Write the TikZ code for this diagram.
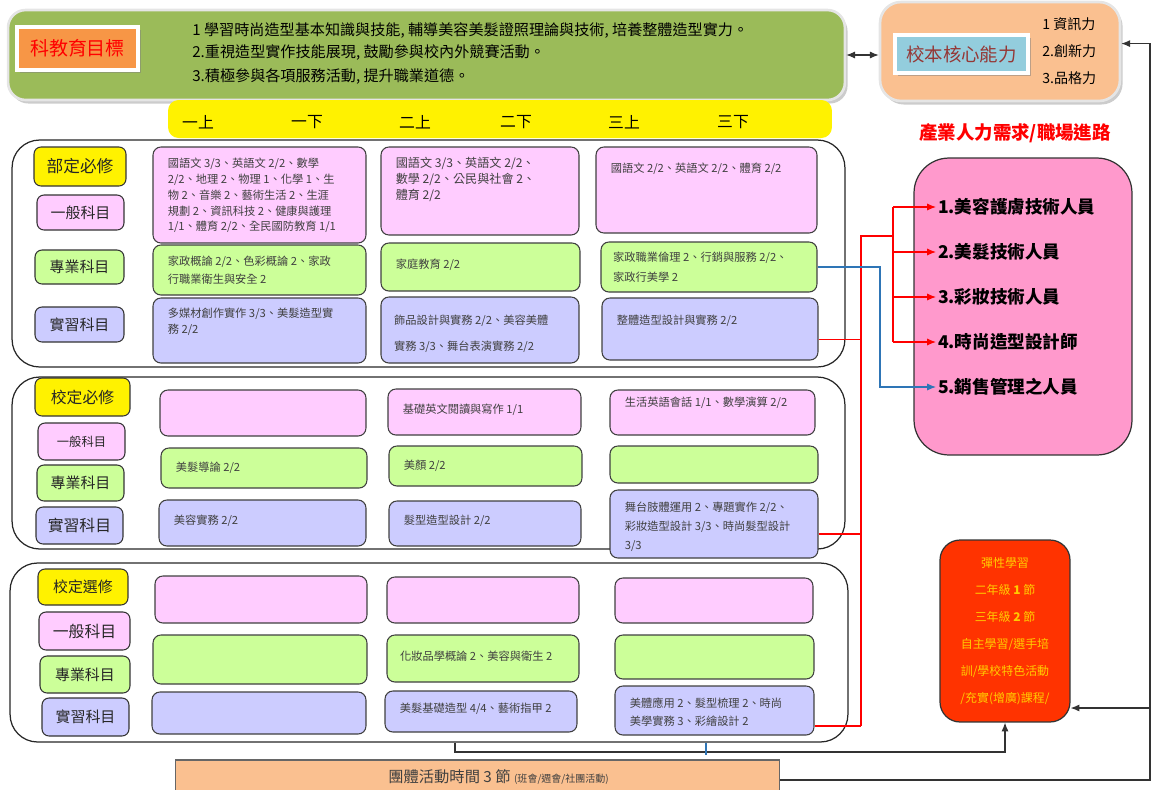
\documentclass[tikz,border=0pt]{standalone}
\usepackage{fontspec}
\setmainfont{Noto Sans CJK TC}
\usetikzlibrary{arrows.meta,positioning,shadows}

\definecolor{goalgreen}{HTML}{9BBB59}
\definecolor{tagorange}{HTML}{F79646}
\definecolor{peach}{HTML}{FAC090}
\definecolor{coreblue}{HTML}{93CDDD}
\definecolor{genpink}{HTML}{FFCCFF}
\definecolor{progreen}{HTML}{CCFF99}
\definecolor{praclav}{HTML}{CCCCFF}
\definecolor{jobpink}{HTML}{FF99CC}
\definecolor{flexred}{HTML}{FF3300}
\definecolor{flexgold}{HTML}{FFCC00}
\definecolor{darkred}{HTML}{953735}
\definecolor{inkgray}{HTML}{404040}
\definecolor{linkblue}{HTML}{2E75B6}

\tikzset{
  frame/.style={draw=black!85, line width=0.7pt, rounded corners=0.55cm, inner sep=0pt},
  tag/.style={draw=black!80, line width=0.6pt, rounded corners=4pt, inner sep=0pt, text=black!85, font=\fontsize{8.5}{10}\selectfont},
  course/.style={draw=black!75, line width=0.6pt, rounded corners=4.5pt, inner sep=0pt},
  ctext/.style={anchor=north west, inner sep=0pt, xshift=8.5pt, align=left, text=inkgray, font=\fontsize{6.4}{9}\selectfont},
  redline/.style={draw=red, line width=0.6pt},
  blueline/.style={draw=linkblue, line width=0.6pt},
  link/.style={draw=black!80, line width=0.6pt},
  tip/.style={-{Latex[length=5pt,width=4pt]}},
}

\begin{document}
\begin{tikzpicture}[x=0.02cm,y=-0.02cm]
\useasboundingbox (0,0) rectangle (1154,789);

% objectives
\node[fill=goalgreen, draw=gray!20, line width=1.5pt, rounded corners=10pt, minimum width=16.74cm, minimum height=1.8cm,
      drop shadow={shadow xshift=1.5pt, shadow yshift=-2pt, fill=black!40}] (goal) at (426.5,55) {};
\node[fill=tagorange, draw=white, line width=2pt, minimum width=2.42cm, minimum height=0.86cm, text=red,
      font=\fontsize{10.8}{12}\selectfont, drop shadow={shadow xshift=1.5pt, shadow yshift=-1.5pt, fill=black!50}] (goaltag) at (77.5,48.5) {科教育目標};
\node[anchor=west, inner sep=0pt, font=\fontsize{8.6}{10}\selectfont] (obj1) at (192,31) {1 學習時尚造型基本知識與技能, 輔導美容美髮證照理論與技術, 培養整體造型實力。};
\node[anchor=west, inner sep=0pt, font=\fontsize{8.6}{10}\selectfont] (obj2) at (192,53) {2.重視造型實作技能展現, 鼓勵參與校內外競賽活動。};
\node[anchor=west, inner sep=0pt, font=\fontsize{8.6}{10}\selectfont] (obj3) at (192,77) {3.積極參與各項服務活動, 提升職業道德。};

% core abilities
\node[fill=peach, draw=gray!20, line width=1.5pt, rounded corners=12pt, minimum width=4.8cm, minimum height=1.98cm,
      drop shadow={shadow xshift=1.5pt, shadow yshift=-2pt, fill=black!40}] (core) at (1000,51.5) {};
\node[fill=coreblue, draw=white, line width=2pt, minimum width=2.66cm, minimum height=0.76cm, text=darkred,
      font=\fontsize{10.5}{12}\selectfont, drop shadow={shadow xshift=1.5pt, shadow yshift=-1.5pt, fill=black!50}] (coretag) at (961.5,54) {校本核心能力};
\node[anchor=west, inner sep=0pt, font=\fontsize{8}{10}\selectfont] (ab1) at (1042,24) {1 資訊力};
\node[anchor=west, inner sep=0pt, font=\fontsize{8}{10}\selectfont] (ab2) at (1042,51) {2.創新力};
\node[anchor=west, inner sep=0pt, font=\fontsize{8}{10}\selectfont] (ab3) at (1042,78) {3.品格力};

\draw[link,{Latex[length=5pt,width=4pt]}-{Latex[length=5pt,width=4pt]}] (goal.east) -- (goal.east -| core.west);

% semesters
\node[fill=yellow, rounded corners=6pt, minimum width=13.28cm, minimum height=0.76cm] (yearbar) at (500,119) {};
\foreach \t/\x [count=\i] in {一上/198, 一下/307, 二上/415, 二下/516, 三上/624, 三下/733}
  \node[font=\fontsize{9}{10}\selectfont] (yr\i) at (\x,122) {\t};

\node[text=red, font=\bfseries\fontsize{10.5}{12}\selectfont] (jobhead) at (1015,133) {產業人力需求/職場進路};

% section frames
\node[frame, minimum width=16.66cm, minimum height=4.54cm] (sec1) at (428.5,253.5) {};
\node[frame, minimum width=16.66cm, minimum height=3.44cm] (sec2) at (428.5,463) {};
\node[frame, minimum width=16.76cm, minimum height=3.58cm] (sec3) at (429,652.5) {};

% row tags
\node[tag, fill=yellow, minimum width=1.84cm, minimum height=0.78cm, font=\fontsize{9.5}{10}\selectfont] (s1head) at (80,166.5) {部定必修};
\node[tag, fill=genpink, minimum width=1.74cm, minimum height=0.7cm] (s1gen) at (80.5,212.5) {一般科目};
\node[tag, fill=progreen, minimum width=1.78cm, minimum height=0.68cm] (s1pro) at (79.5,267) {專業科目};
\node[tag, fill=praclav, minimum width=1.78cm, minimum height=0.7cm] (s1prac) at (79.5,324.5) {實習科目};

\node[tag, fill=yellow, minimum width=1.9cm, minimum height=0.76cm, font=\fontsize{9}{10}\selectfont] (s2head) at (82.5,397) {校定必修};
\node[tag, fill=genpink, minimum width=1.74cm, minimum height=0.74cm, font=\fontsize{7}{8}\selectfont] (s2gen) at (81.5,441.5) {一般科目};
\node[tag, fill=progreen, minimum width=1.74cm, minimum height=0.72cm] (s2pro) at (80.5,483) {專業科目};
\node[tag, fill=praclav, minimum width=1.74cm, minimum height=0.74cm, font=\fontsize{9}{10}\selectfont] (s2prac) at (79.5,525.5) {實習科目};

\node[tag, fill=yellow, minimum width=1.8cm, minimum height=0.72cm] (s3head) at (83,587) {校定選修};
\node[tag, fill=genpink, minimum width=1.82cm, minimum height=0.76cm, font=\fontsize{9}{10}\selectfont] (s3gen) at (84.5,631) {一般科目};
\node[tag, fill=progreen, minimum width=1.8cm, minimum height=0.74cm] (s3pro) at (85,674.5) {專業科目};
\node[tag, fill=praclav, minimum width=1.74cm, minimum height=0.76cm] (s3prac) at (85.5,717) {實習科目};

% courses, section 1
\node[course, fill=genpink, minimum width=4.26cm, minimum height=1.92cm,
      label={[ctext, yshift=-6.4pt]north west:{國語文 3/3、英語文 2/2、數學\\2/2、地理 2、物理 1、化學 1、生\\物 2、音樂 2、藝術生活 2、生涯\\規劃 2、資訊科技 2、健康與護理\\1/1、體育 2/2、全民國防教育 1/1}}] (s1g1) at (259.5,195) {};
\node[course, fill=genpink, minimum width=3.96cm, minimum height=1.76cm,
      label={[ctext, yshift=-5.9pt, font=\fontsize{6.9}{9}\selectfont]north west:{國語文 3/3、英語文 2/2、\\數學 2/2、公民與社會 2、\\體育 2/2}}] (s1g2) at (480,191) {};
\node[course, fill=genpink, minimum width=4.42cm, minimum height=1.72cm,
      label={[ctext, yshift=-9.3pt]north west:{國語文 2/2、英語文 2/2、體育 2/2}}] (s1g3) at (706.5,190) {};
\node[course, fill=progreen, minimum width=4.26cm, minimum height=1cm,
      label={[ctext, yshift=-6.4pt]north west:{家政概論 2/2、色彩概論 2、家政\\[1.2pt]行職業衛生與安全 2}}] (s1p1) at (259.5,270) {};
\node[course, fill=progreen, minimum width=3.98cm, minimum height=0.96cm,
      label={[ctext, yshift=-9.3pt]north west:{家庭教育 2/2}}] (s1p2) at (480.5,267) {};
\node[course, fill=progreen, minimum width=4.32cm, minimum height=1cm,
      label={[ctext, xshift=-1.5pt, yshift=-5.9pt]north west:{家政職業倫理 2、行銷與服務 2/2、\\[2.3pt]家政行美學 2}}] (s1p3) at (709,267) {};
\node[course, fill=praclav, minimum width=4.26cm, minimum height=1.3cm,
      label={[ctext, yshift=-5.9pt]north west:{多媒材創作實作 3/3、美髮造型實\\務 2/2}}] (s1r1) at (259.5,330.5) {};
\node[course, fill=praclav, minimum width=3.96cm, minimum height=1.32cm,
      label={[ctext, xshift=-1pt, yshift=-10.4pt]north west:{飾品設計與實務 2/2、美容美體\\[5.7pt]實務 3/3、舞台表演實務 2/2}}] (s1r2) at (480,330) {};
\node[course, fill=praclav, minimum width=4.32cm, minimum height=1.24cm,
      label={[ctext, yshift=-9.8pt]north west:{整體造型設計與實務 2/2}}] (s1r3) at (710,329) {};

% courses, section 2
\node[course, fill=genpink, minimum width=4.12cm, minimum height=0.92cm] (s2g1) at (263,413) {};
\node[course, fill=genpink, minimum width=3.86cm, minimum height=0.92cm,
      label={[ctext, yshift=-8.7pt]north west:{基礎英文閱讀與寫作 1/1}}] (s2g2) at (484.5,412) {};
\node[course, fill=genpink, minimum width=4.1cm, minimum height=0.9cm,
      label={[ctext, yshift=-4.2pt]north west:{生活英語會話 1/1、數學演算 2/2}}] (s2g3) at (712.5,412.5) {};
\node[course, fill=progreen, minimum width=4.12cm, minimum height=0.8cm,
      label={[ctext, yshift=-8.1pt]north west:{美髮導論 2/2}}] (s2p1) at (264,468) {};
\node[course, fill=progreen, minimum width=3.86cm, minimum height=0.8cm,
      label={[ctext, yshift=-8.1pt]north west:{美顏 2/2}}] (s2p2) at (485.5,466) {};
\node[course, fill=progreen, minimum width=4.16cm, minimum height=0.74cm] (s2p3) at (714,464.5) {};
\node[course, fill=praclav, minimum width=4.14cm, minimum height=0.92cm,
      label={[ctext, yshift=-8.7pt]north west:{美容實務 2/2}}] (s2r1) at (262.5,523) {};
\node[course, fill=praclav, minimum width=3.84cm, minimum height=0.9cm,
      label={[ctext, yshift=-8.1pt]north west:{髮型造型設計 2/2}}] (s2r2) at (485,523.5) {};
\node[course, fill=praclav, minimum width=4.16cm, minimum height=1.36cm,
      label={[ctext, yshift=-7pt]north west:{舞台肢體運用 2、專題實作 2/2、\\[1.8pt]彩妝造型設計 3/3、時尚髮型設計\\[1.8pt]3/3}}] (s2r3) at (714,524) {};

% courses, section 3
\node[course, fill=genpink, minimum width=4.24cm, minimum height=0.94cm] (s3g1) at (261,599.5) {};
\node[course, fill=genpink, minimum width=3.84cm, minimum height=0.92cm] (s3g2) at (483,600) {};
\node[course, fill=genpink, minimum width=3.96cm, minimum height=0.9cm] (s3g3) at (714,600.5) {};
\node[course, fill=progreen, minimum width=4.28cm, minimum height=0.98cm] (s3p1) at (260,659.5) {};
\node[course, fill=progreen, minimum width=3.84cm, minimum height=0.94cm,
      label={[ctext, xshift=-1pt, yshift=-9.3pt]north west:{化妝品學概論 2、美容與衛生 2}}] (s3p2) at (483,658.5) {};
\node[course, fill=progreen, minimum width=3.98cm, minimum height=0.88cm] (s3p3) at (714.5,657) {};
\node[course, fill=praclav, minimum width=4.28cm, minimum height=0.84cm] (s3r1) at (259,713) {};
\node[course, fill=praclav, minimum width=3.84cm, minimum height=0.82cm,
      label={[ctext, yshift=-7pt]north west:{美髮基礎造型 4/4、藝術指甲 2}}] (s3r2) at (481,711.5) {};
\node[course, fill=praclav, minimum width=3.98cm, minimum height=0.98cm,
      label={[ctext, yshift=-7pt]north west:{美體應用 2、髮型梳理 2、時尚\\[1.2pt]美學實務 3、彩繪設計 2}}] (s3r3) at (714.5,710.5) {};

% careers
\node[fill=jobpink, draw=black!80, line width=0.7pt, rounded corners=0.7cm, minimum width=4.36cm, minimum height=5.94cm] (career) at (1023,306.5) {};
\node[anchor=west, inner sep=1pt, font=\bfseries\fontsize{10}{12}\selectfont] (job1) at (936,207) {1.美容護膚技術人員};
\node[anchor=west, inner sep=1pt, font=\bfseries\fontsize{10}{12}\selectfont] (job2) at (936,252) {2.美髮技術人員};
\node[anchor=west, inner sep=1pt, font=\bfseries\fontsize{10}{12}\selectfont] (job3) at (936,297) {3.彩妝技術人員};
\node[anchor=west, inner sep=1pt, font=\bfseries\fontsize{10}{12}\selectfont] (job4) at (936,342) {4.時尚造型設計師};
\node[anchor=west, inner sep=1pt, font=\bfseries\fontsize{10}{12}\selectfont] (job5) at (936,387) {5.銷售管理之人員};

% flexible learning
\node[fill=flexred, draw=black!80, line width=0.7pt, rounded corners=0.4cm, minimum width=2.6cm, minimum height=3.64cm,
      align=center, text=flexgold, font=\fontsize{6.8}{15.3}\selectfont] (flex) at (1005,631)
      {彈性學習\\二年級 \textbf{1} 節\\三年級 \textbf{2} 節\\自主學習/選手培\\訓/學校特色活動\\/充實(增廣)課程/};

% group activities
\node[fill=peach, draw=black!60, line width=0.6pt, minimum width=12.1cm, minimum height=0.8cm] (activity) at (477.5,780) {};
\node[anchor=west, inner sep=0pt, text=inkgray, font=\fontsize{8.7}{10}\selectfont] (acttext) at (388,777)
      {團體活動時間 3 節 {\fontsize{5.7}{7}\selectfont (班會/週會/社團活動)}};

% red links to careers
\coordinate (bus) at (861,236);
\coordinate (fork) at (893,236);
\coordinate (r1) at ([yshift=-6.2pt]s1r3.east);
\coordinate (r2) at ([yshift=-5.7pt]s2r3.east);
\coordinate (r3) at ([yshift=-8.8pt]s3r3.east);
\draw[redline] (r1) -- (r1 -| bus);
\draw[redline] (r2) -- (r2 -| bus);
\draw[redline] (r3) -- (r3 -| bus);
\draw[redline] (bus |- r3) -- (bus) -- (fork);
\draw[redline] (fork |- job1.west) -- (fork |- job4.west);
\foreach \j in {1,...,4}
  \draw[redline, tip] (fork |- job\j.west) -- (job\j.west);

% blue link
\coordinate (bturn) at (880,270);
\draw[blueline, tip] (s1p3.east) -- (s1p3.east -| bturn) |- (job5.west);

% black links
\coordinate (drop) at (455,752);
\draw[link, tip] (drop |- sec3.south) -- (drop) -| (flex.south);
\coordinate (btick) at (706,755);
\draw[blueline] (btick |- sec3.south) -- (btick);
\coordinate (rail) at (1150,708);
\coordinate (cin) at ([yshift=4.5pt]core.east);
\draw[link, tip] (activity.east) -| (rail |- cin) -- (cin);
\draw[link, tip] (rail) -- (rail -| flex.east);

\end{tikzpicture}
\end{document}
